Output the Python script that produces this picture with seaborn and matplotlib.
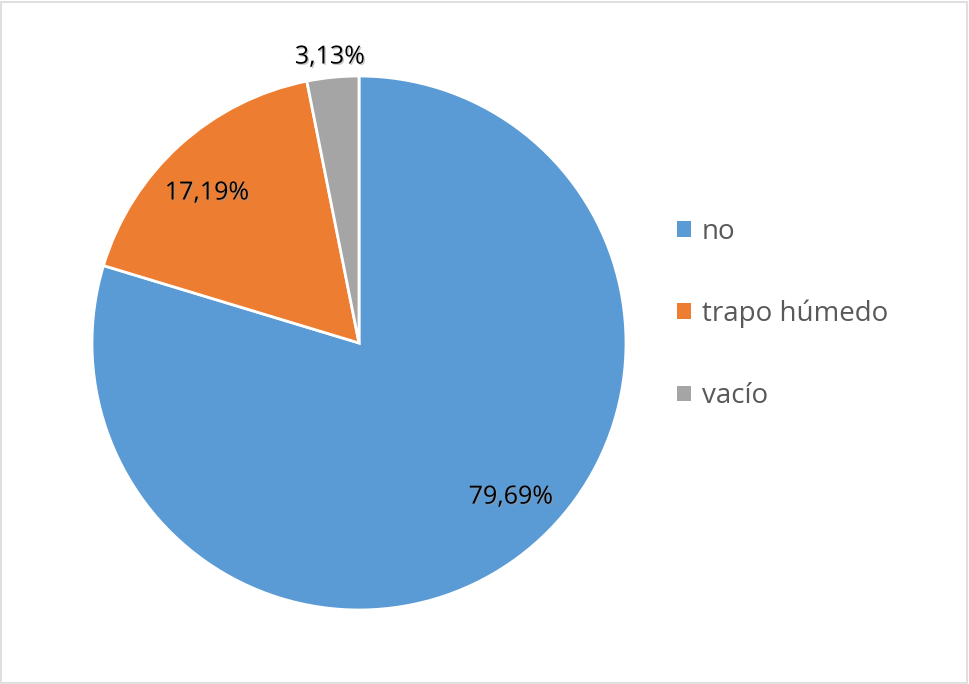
import matplotlib
matplotlib.use('Agg')
import matplotlib.pyplot as plt
import matplotlib.patheffects as pe
from matplotlib.patches import Rectangle
import seaborn as sns

# datos
categorias = ['no', 'trapo húmedo', 'vacío']
porcentajes = [79.69, 17.19, 3.13]
etiquetas = ['79,69%', '17,19%', '3,13%']
colores = ['#5B9BD5', '#ED7D31', '#A5A5A5']

sns.set_theme(style='white')
plt.rcParams['font.family'] = ['Open Sans', 'DejaVu Sans']

W, H = 969, 684
fig = plt.figure(figsize=(W / 100, H / 100), dpi=100)

# pie: centro (359, 343) px, radio 267 px
cx, cy, r = 359, 343, 267
ax = fig.add_axes([(cx - r) / W, (H - cy - r) / H, 2 * r / W, 2 * r / H])
wedges, _ = ax.pie(porcentajes, colors=colores, startangle=90, counterclock=False,
                   radius=1, wedgeprops=dict(edgecolor='white', linewidth=2))
ax.set_xlim(-1, 1)
ax.set_ylim(-1, 1)
ax.set_aspect('equal')
ax.axis('off')

# posición de las etiquetas (estilo Excel "ajuste perfecto")
pos_etiquetas = [(0.569, -0.577), (-0.569, 0.562), (-0.109, 1.071)]
sombra = [pe.withSimplePatchShadow(offset=(1, -1), shadow_rgbFace='#999999', alpha=0.5)]
for txt, (x, y) in zip(etiquetas, pos_etiquetas):
    ax.text(x, y, txt, ha='center', va='center', fontsize=18, color='black',
            path_effects=sombra, clip_on=False)

# leyenda
leg = fig.legend(wedges, categorias, loc='center left',
                 bbox_to_anchor=(652 / W, (H - 314) / H),
                 frameon=False, fontsize=20, labelcolor='#595959',
                 handlelength=0.5, handleheight=0.5, handletextpad=0.4,
                 labelspacing=1.95)
for h in leg.legend_handles:
    h.set_edgecolor('none')

# borde del área del gráfico
fig.patches.append(Rectangle((1 / W, 1 / H), 1 - 3 / W, 1 - 3 / H,
                             transform=fig.transFigure, fill=False,
                             edgecolor='#D9D9D9', linewidth=1.2))

fig.savefig('out.png', dpi=100)
plt.close(fig)
